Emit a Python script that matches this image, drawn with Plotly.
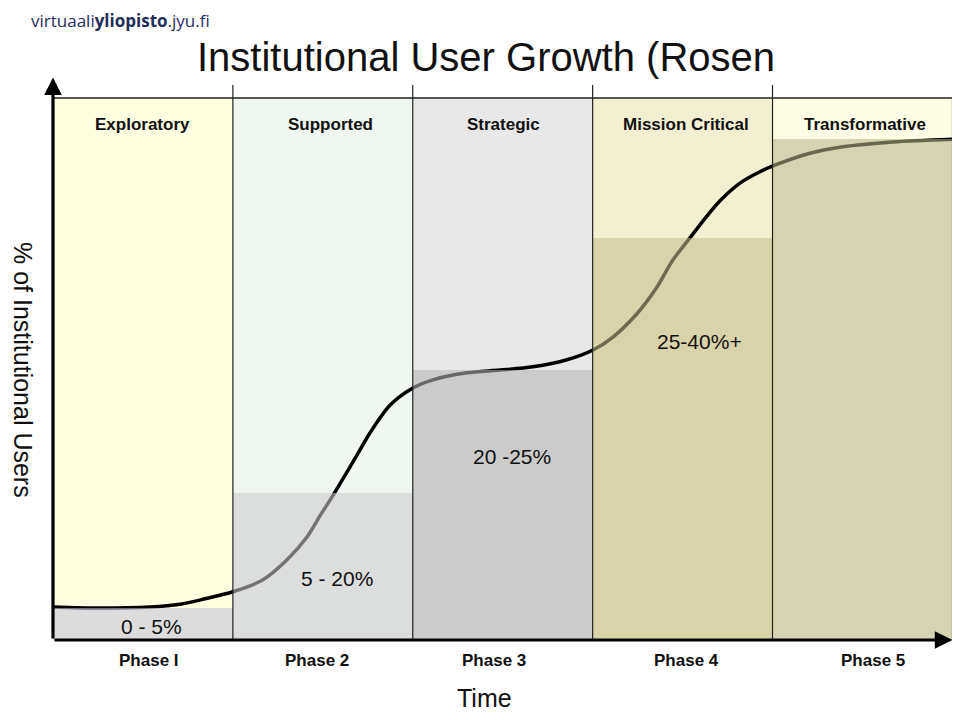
import plotly.graph_objects as go

# ---------------- data ----------------
phases = ["Phase I", "Phase 2", "Phase 3", "Phase 4", "Phase 5"]
stages = ["Exploratory", "Supported", "Strategic", "Mission Critical", "Transformative"]
range_labels = ["0 - 5%", "5 - 20%", "20 -25%", "25-40%+"]
col_top = [100, 100, 100, 100, 100]
col_level = [5.9, 27.1, 49.8, 74.2, 92.4]          # height of shaded (user share) block per phase

curve_x = [0, 0.261, 0.539, 0.706, 0.845, 1.0, 1.167, 1.301, 1.412, 1.484, 1.540, 1.595,
           1.679, 1.762, 1.873, 2.001, 2.112, 2.301, 2.485, 2.668, 2.857, 3.002, 3.113,
           3.246, 3.357, 3.446, 3.541, 3.635, 3.707, 3.819, 3.930, 4.013, 4.208, 4.391,
           4.669, 5.0]
curve_y = [6.1, 5.9, 6.1, 6.6, 7.6, 8.9, 11.1, 14.8, 19.0, 22.9, 25.8, 28.8,
           33.5, 38.2, 43.3, 46.5, 48.0, 49.3, 49.8, 50.4, 51.7, 53.5, 55.9,
           60.2, 65.1, 70.1, 74.2, 78.2, 81.0, 84.3, 86.4, 87.6, 89.8, 91.0,
           91.9, 92.4]

# label positions (data units)
stage_lab_x = [0.50, 1.545, 2.506, 3.519, 4.514]
stage_lab_y = 95.2
phase_lab_x = [0.533, 1.467, 2.451, 3.524, 4.558]
range_lab_x = [0.55, 1.578, 2.551, 3.596]
range_lab_y = [2.4, 11.3, 33.8, 55.0]

# ---------------- styles ----------------
upper_rgb = [(254, 254, 224), (239, 247, 240), (232, 232, 232), (243, 240, 210), (253, 253, 229)]
lower_rgb = [(220, 220, 220), (220, 220, 220), (203, 203, 203), (217, 211, 169), (213, 211, 176)]
ALPHA = 0.57


def overlay_color(target, under, a=ALPHA):
    c = [max(0, min(255, round((t - (1 - a) * u) / a))) for t, u in zip(target, under)]
    return f"rgba({c[0]},{c[1]},{c[2]},{a})"


upper_cols = ["rgb(%d,%d,%d)" % c for c in upper_rgb]
lower_cols = [overlay_color(t, u) for t, u in zip(lower_rgb, upper_rgb)]

OFF = 8  # page body margin
W, H = 960, 720
L = 53 - OFF
T = 70 - OFF
B = H - (640 - OFF)
PW = 903
R = W - L - PW
PH = 570


def px(xp):  # reference pixel -> paper x
    return (xp - 53) / PW


def py(yp):  # reference pixel -> paper y
    return (640 - yp) / PH


FONT = "Liberation Sans, Arial, sans-serif"
xc = [i + 0.5 for i in range(len(phases))]

fig = go.Figure()
fig.add_trace(go.Bar(x=xc, y=col_top, width=1, marker=dict(color=upper_cols, line=dict(width=0)),
                     hoverinfo="skip", zorder=0, showlegend=False))
fig.add_trace(go.Scatter(x=curve_x, y=curve_y, mode="lines",
                         line=dict(color="black", width=3.5, shape="spline", smoothing=0.8),
                         hoverinfo="skip", zorder=1, showlegend=False))
fig.add_trace(go.Bar(x=xc, y=col_level, width=1, marker=dict(color=lower_cols, line=dict(width=0)),
                     hoverinfo="skip", zorder=2, showlegend=False))

# borders / dividers
shapes = []
for i in range(1, len(phases)):
    shapes.append(dict(type="line", xref="x", yref="y", x0=i, x1=i, y0=0, y1=102.4,
                       line=dict(color="#222", width=1.2), layer="above"))
shapes.append(dict(type="line", xref="x", yref="y", x0=0, x1=5, y0=100, y1=100,
                   line=dict(color="#222", width=1.5), layer="above"))
shapes.append(dict(type="line", xref="x", yref="y", x0=5, x1=5, y0=0, y1=100,
                   line=dict(color="#444", width=1), layer="above"))

ann = []
# axis arrows
ann.append(dict(x=0, y=103.8, ax=0, ay=0, xref="x", yref="y", axref="x", ayref="y", text="",
                showarrow=True, arrowhead=2, arrowsize=1.1, arrowwidth=3.2, arrowcolor="black",
                standoff=0, startstandoff=0))
ann.append(dict(x=5.0, y=0, ax=0, ay=0, xref="x", yref="y", axref="x", ayref="y", text="",
                showarrow=True, arrowhead=2, arrowsize=1.1, arrowwidth=3.2, arrowcolor="black",
                standoff=0, startstandoff=0))

for s, x in zip(stages, stage_lab_x):
    ann.append(dict(x=x, y=stage_lab_y, xref="x", yref="y", text="<b>%s</b>" % s, showarrow=False,
                    xanchor="center", yanchor="middle",
                    font=dict(family=FONT, size=17, color="#111")))
for p, x in zip(phases, phase_lab_x):
    ann.append(dict(x=x, y=py(660), xref="x", yref="paper", text="<b>%s</b>" % p, showarrow=False,
                    xanchor="center", yanchor="middle",
                    font=dict(family=FONT, size=17, color="#111")))
for t, x, y in zip(range_labels, range_lab_x, range_lab_y):
    ann.append(dict(x=x, y=y, xref="x", yref="y", text=t, showarrow=False,
                    xanchor="center", yanchor="middle",
                    font=dict(family=FONT, size=21, color="#111")))

ann.append(dict(x=px(486), y=py(57), xref="paper", yref="paper", text="Institutional User Growth (Rosen",
                xanchor="center", yanchor="middle",
                showarrow=False, font=dict(family=FONT, size=40, color="#111")))
ann.append(dict(x=px(484), y=py(698), xref="paper", yref="paper", text="Time",
                xanchor="center", yanchor="middle",
                showarrow=False, font=dict(family=FONT, size=25, color="#111")))
ann.append(dict(x=px(23), y=py(370), xref="paper", yref="paper", text="% of Institutional Users",
                xanchor="center", yanchor="middle",
                textangle=90, showarrow=False, font=dict(family=FONT, size=25, color="#111")))
ann.append(dict(x=px(30), y=py(8), xref="paper", yref="paper", xanchor="left", yanchor="top",
                text="virtuaali<b>yliopisto</b>.jyu.fi", showarrow=False, borderpad=0,
                font=dict(family="Open Sans, sans-serif", size=17, color="#1f2d5c")))

fig.update_layout(
    width=W, height=H, margin=dict(l=L, r=R, t=T, b=B),
    paper_bgcolor="white", plot_bgcolor="white",
    barmode="overlay", bargap=0,
    xaxis=dict(range=[0, 5.02], visible=False, fixedrange=True),
    yaxis=dict(range=[0, PH / 5.42], visible=False, fixedrange=True),
    shapes=shapes, annotations=ann, showlegend=False,
)

fig.write_html("out.html")
